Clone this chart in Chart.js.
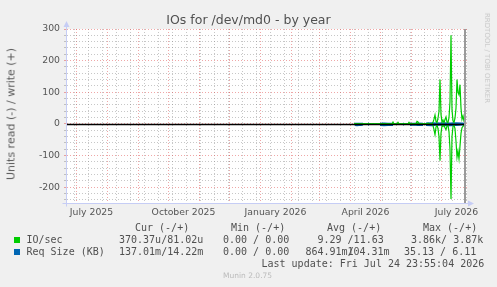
<!DOCTYPE html>
<html>
<head>
<meta charset="utf-8">
<script src="https://cdn.jsdelivr.net/npm/chart.js@4"></script>
<style>
    html, body { margin: 0; padding: 0; background: #f0f0f0; }
    #wrap { position: relative; width: 497px; height: 287px; overflow: hidden; }
    #wrap canvas { position: absolute; left: 0; top: 0; }
    .t { position: absolute; white-space: pre; font-family: "DejaVu Sans Mono", monospace; font-size: 10px; line-height: 12px; color: #505050; }
    .sq { position: absolute; width: 6px; height: 6px; }
    #title { position: absolute; left: 0; width: 497px; top: 12px; text-align: center; font-family: "DejaVu Sans", sans-serif; font-size: 12.5px; line-height: 15px; color: #505050; }
    #ytitle { position: absolute; left: 11px; top: 114px; transform: translate(-50%, -50%) rotate(-90deg); white-space: nowrap; font-family: "DejaVu Sans", sans-serif; font-size: 11px; color: #5a5a5a; }
    #rrd { position: absolute; left: 487px; top: 58px; transform: translate(-50%, -50%) rotate(90deg); white-space: nowrap; font-family: "DejaVu Sans", sans-serif; font-size: 7px; color: #c8c8c8; }
    #munin { position: absolute; left: 223px; top: 271px; font-family: "DejaVu Sans", sans-serif; font-size: 7.5px; line-height: 10px; color: #bbbbbb; white-space: pre; }
</style>
</head>
<body>
<div id="wrap">
    <canvas id="ioChart" width="497" height="287"></canvas>
    <div id="title">IOs for /dev/md0 - by year</div>
    <div id="ytitle">Units read (-) / write (+)</div>
    <div id="rrd">RRDTOOL / TOBI OETIKER</div>

    <div class="t" style="left:135px;top:222px">Cur (-/+)</div>
    <div class="t" style="left:231px;top:222px">Min (-/+)</div>
    <div class="t" style="left:327px;top:222px">Avg (-/+)</div>
    <div class="t" style="left:423px;top:222px">Max (-/+)</div>

    <div class="sq" style="left:14px;top:237px;background:#00cc00"></div>
    <div class="t" style="left:26.5px;top:234px">IO/sec</div>
    <div class="t" style="left:119px;top:234px">370.37u/81.02u</div>
    <div class="t" style="left:223px;top:234px">0.00 / 0.00</div>
    <div class="t" style="left:317.5px;top:234px">9.29 /11.63</div>
    <div class="t" style="left:411px;top:234px">3.86k/ 3.87k</div>

    <div class="sq" style="left:14px;top:249px;background:#0066b3"></div>
    <div class="t" style="left:26.5px;top:245.5px">Req Size (KB)</div>
    <div class="t" style="left:119px;top:245.5px">137.01m/14.22m</div>
    <div class="t" style="left:223px;top:245.5px">0.00 / 0.00</div>
    <div class="t" style="left:305.5px;top:245.5px">864.91m/</div>
    <div class="t" style="left:347.5px;top:245.5px">104.31m</div>
    <div class="t" style="left:404px;top:245.5px">35.13 / 6.11</div>

    <div class="t" style="left:261.5px;top:257.5px">Last update: Fri Jul 24 23:55:04 2026</div>
    <div id="munin">Munin 2.0.75</div>
</div>
<script>
// days counted from 1 July 2025
const monthStartDays = [0, 31, 62, 92, 123, 153, 184, 215, 243, 274, 304, 335, 365];
const xLabelDays = [15.5, 107.5, 199.5, 289.5, 380.5];
const xLabelText = ['July 2025', 'October 2025', 'January 2026', 'April 2026', 'July 2026'];
const yLabelValues = [-200, -100, 0, 100, 200, 300];
const nowDay = 389;

// IO/sec, write is plotted up, read down
const ioDays = [278, 316, 317, 318, 321, 322, 323, 332, 333, 334, 340, 341, 342, 343, 351, 352, 353,
    356, 357, 358, 359, 360, 361, 362, 363, 364, 365, 366, 367, 368, 369, 370, 371, 372, 373, 374, 375,
    376, 377, 378, 379, 380, 381, 382, 383, 384, 385, 386, 387, 388, 389];
const ioWrite = [0, 0, 6, 0, 0, 5, 0, 0, 5, 0, 0, 8, 6, 0, 0, 3, 0,
    0, 5, 15, 28, 8, 4, 18, 40, 140, 30, 5, 12, 4, 14, 22, 6, 4, 20, 70, 280,
    45, 10, 4, 18, 50, 140, 100, 92, 124, 50, 15, 25, 8, 3];
const ioRead = [0, 0, 0, 0, 0, 0, 0, 0, 0, 0, 0, 0, 0, 0, 0, 0, 0,
    0, -5, -18, -34, -10, -4, -15, -40, -116, -30, -5, -8, -4, -12, -18, -6, -4, -25, -80, -237,
    -40, -8, -4, -15, -55, -105, -86, -110, -70, -30, -12, -8, -4, -2];

// Req Size (KB)
const reqDays = [279, 281, 283, 285, 287, 288, 292, 293, 294, 304, 308, 312, 317, 318, 327, 328, 329,
    334, 338, 342, 347, 348, 350, 356, 362, 368, 374, 380, 386, 389];
const reqRead = [-4, -5, -4, -4, -3, null, -3, -3, null, -4, -5, -4, -4, null, -3, -3, null,
    -4, -3, -4, -4, null, -4, -5, -3, -4, -5, -4, -3, -3];
const reqWrite = [1, 1, 1, 1, 1, null, 1, 1, null, 1, 2, 1, 1, null, 1, 1, null,
    1, 1, 2, 1, null, 2, 3, 2, 3, 2, 3, 2, 1];

const toPoints = (days, vals) => days.map((d, i) => ({ x: d, y: vals[i] }));

const majorGrid = 'rgba(220,60,60,0.45)';
const minorGrid = 'rgba(130,130,130,0.45)';
const axisColor = '#c6cdf5';

const muninPlugin = {
    id: 'muninFrame',
    beforeDraw(chart) {
        const { ctx, chartArea: a } = chart;
        ctx.save();
        ctx.fillStyle = '#ffffff';
        ctx.fillRect(a.left, a.top, a.right - a.left, a.bottom - a.top);
        ctx.restore();
    },
    afterDatasetsDraw(chart) {
        const { ctx, chartArea: a, scales: { x, y } } = chart;
        const y0 = Math.round(y.getPixelForValue(0)) + 0.5;
        const xn = x.getPixelForValue(nowDay);
        ctx.save();
        // zero line
        ctx.strokeStyle = '#000000';
        ctx.lineWidth = 1.5;
        ctx.beginPath();
        ctx.moveTo(a.left, y0);
        ctx.lineTo(xn, y0);
        ctx.stroke();
        // now line
        ctx.strokeStyle = '#9a9a9a';
        ctx.lineWidth = 2;
        ctx.beginPath();
        ctx.moveTo(xn, a.top);
        ctx.lineTo(xn, a.bottom);
        ctx.stroke();
        // axes with arrows
        const ax = Math.round(a.left) - 0.5;
        const ay = Math.round(a.bottom) + 0.5;
        ctx.strokeStyle = axisColor;
        ctx.fillStyle = axisColor;
        ctx.lineWidth = 1;
        ctx.beginPath();
        ctx.moveTo(ax, ay + 3);
        ctx.lineTo(ax, a.top - 4);
        ctx.moveTo(ax - 4, ay);
        ctx.lineTo(a.right + 2, ay);
        ctx.stroke();
        ctx.beginPath();
        ctx.moveTo(ax - 3, a.top - 2);
        ctx.lineTo(ax + 3, a.top - 2);
        ctx.lineTo(ax, a.top - 8);
        ctx.closePath();
        ctx.fill();
        ctx.beginPath();
        ctx.moveTo(a.right + 1, ay - 3);
        ctx.lineTo(a.right + 1, ay + 3);
        ctx.lineTo(a.right + 7, ay);
        ctx.closePath();
        ctx.fill();
        ctx.restore();
    }
};

let ioChart = new Chart(document.getElementById('ioChart'), {
    type: 'line',
    data: {
        datasets: [
            {
                label: 'IO/sec write',
                data: toPoints(ioDays, ioWrite),
                borderColor: '#00cc00',
                borderWidth: 1.2,
                pointRadius: 0,
                tension: 0
            },
            {
                label: 'IO/sec read',
                data: toPoints(ioDays, ioRead),
                borderColor: '#00cc00',
                borderWidth: 1.2,
                pointRadius: 0,
                tension: 0
            },
            {
                label: 'Req Size write',
                data: toPoints(reqDays, reqWrite),
                borderColor: '#0066b3',
                borderWidth: 1.5,
                pointRadius: 0,
                tension: 0
            },
            {
                label: 'Req Size read',
                data: toPoints(reqDays, reqRead),
                borderColor: '#0066b3',
                borderWidth: 1.5,
                pointRadius: 0,
                tension: 0
            }
        ]
    },
    options: {
        responsive: false,
        animation: false,
        spanGaps: false,
        layout: { padding: { left: 0, top: 29, right: 30, bottom: 64 } },
        plugins: {
            legend: { display: false },
            tooltip: { enabled: false }
        },
        scales: {
            x: {
                type: 'linear',
                min: -9,
                max: 391,
                afterBuildTicks: function (scale) {
                    let vals = [];
                    for (let d = -2; d < 391; d += 14) vals.push(d);
                    vals = vals.concat(monthStartDays, xLabelDays).sort((p, q) => p - q);
                    scale.ticks = vals.map(v => ({ value: v }));
                },
                afterFit: function (scale) { scale.height = 20; },
                grid: {
                    drawTicks: false,
                    color: function (ctx) {
                        const v = ctx.tick ? ctx.tick.value : null;
                        if (xLabelDays.includes(v)) return 'rgba(0,0,0,0)';
                        return monthStartDays.includes(v) ? majorGrid : minorGrid;
                    }
                },
                border: { display: false, dash: [1, 2] },
                ticks: {
                    autoSkip: false,
                    maxRotation: 0,
                    padding: 4,
                    color: '#555555',
                    font: { family: 'DejaVu Sans', size: 9.3 },
                    callback: function (value) {
                        const i = xLabelDays.indexOf(value);
                        return i >= 0 ? xLabelText[i] : '';
                    }
                }
            },
            y: {
                min: -250,
                max: 300,
                afterBuildTicks: function (scale) {
                    let vals = [];
                    for (let v = -240; v <= 300; v += 20) vals.push(v);
                    scale.ticks = vals.map(v => ({ value: v }));
                },
                afterFit: function (scale) { scale.width = 67; },
                grid: {
                    drawTicks: true,
                    tickLength: 3,
                    color: function (ctx) {
                        const v = ctx.tick ? ctx.tick.value : null;
                        return yLabelValues.includes(v) ? majorGrid : minorGrid;
                    }
                },
                border: { display: false, dash: [1, 2] },
                ticks: {
                    autoSkip: false,
                    padding: 4,
                    color: '#555555',
                    font: { family: 'DejaVu Sans', size: 9.3 },
                    callback: function (value) {
                        return yLabelValues.includes(value) ? String(value) : '';
                    }
                }
            }
        }
    },
    plugins: [muninPlugin]
});
</script>
</body>
</html>
